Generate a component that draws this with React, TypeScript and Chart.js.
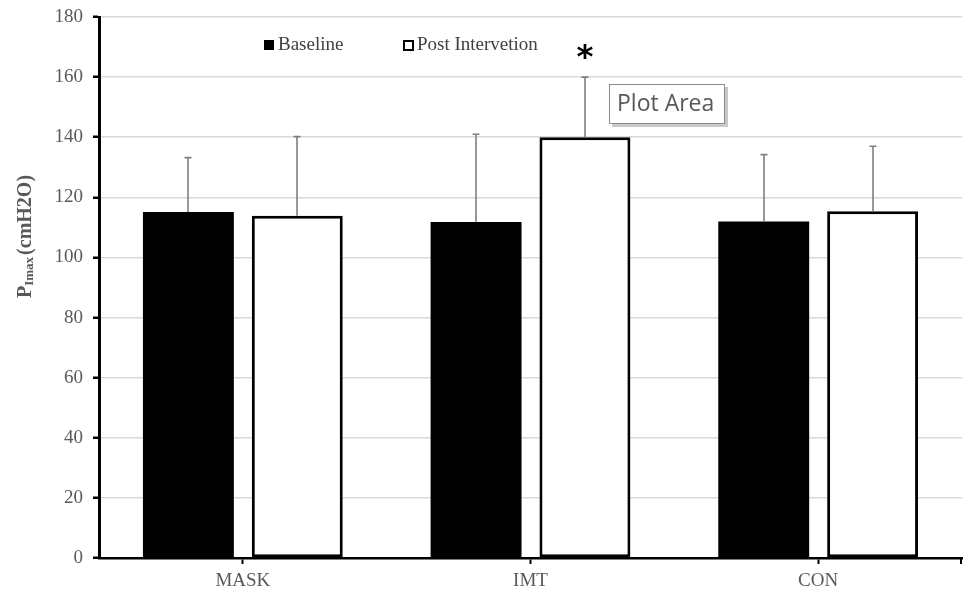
import React, { useEffect, useRef } from "react";
import { Chart, registerables } from "chart.js";

Chart.register(...registerables);

const categories = ["MASK", "IMT", "CON"];
const seriesLabels = ["Baseline", "Post Intervetion"];
const baselineValues = [115.1, 111.8, 112.0];
const postValues = [113.9, 140.0, 115.4];
const baselineErrors = [18.1, 29.2, 22.2];
const postErrors = [26.3, 20.0, 21.6];
const postSignificance = ["", "*", ""];
const yMin = 0;
const yMax = 180;
const yStep = 20;
const titleMain = "P";
const titleSub = "Imax";
const titleRest = "(cmH2O)";
const calloutText = "Plot Area";

const SERIF = "'Liberation Serif', 'Times New Roman', serif";
const GRAY_TEXT = "#595959";

const overlayPlugin = {
  id: "overlay",
  afterDatasetsDraw(chart: any) {
    const ctx = chart.ctx as CanvasRenderingContext2D;
    const yScale = chart.scales.y;
    const area = chart.chartArea;
    const vals = [baselineValues, postValues];
    const errs = [baselineErrors, postErrors];

    // error bars
    ctx.save();
    ctx.strokeStyle = "#7f7f7f";
    ctx.lineWidth = 1.6;
    chart.data.datasets.forEach((_ds: any, di: number) => {
      const meta = chart.getDatasetMeta(di);
      meta.data.forEach((el: any, i: number) => {
        const top = yScale.getPixelForValue(vals[di][i] + errs[di][i]);
        const x = Math.round(el.x);
        ctx.beginPath();
        ctx.moveTo(x, el.y);
        ctx.lineTo(x, top);
        ctx.moveTo(x - 3.5, top);
        ctx.lineTo(x + 3.5, top);
        ctx.stroke();
      });
    });
    ctx.restore();

    // significance marks
    ctx.save();
    const postMeta = chart.getDatasetMeta(1);
    postMeta.data.forEach((el: any, i: number) => {
      const mark = postSignificance[i];
      if (!mark) return;
      const top = yScale.getPixelForValue(postValues[i] + postErrors[i]);
      ctx.font = "bold 40px 'DejaVu Sans', sans-serif";
      const m = ctx.measureText(mark);
      const w = m.actualBoundingBoxLeft + m.actualBoundingBoxRight;
      const size = 40 * (17 / w);
      ctx.font = `bold ${size}px 'DejaVu Sans', sans-serif`;
      const m2 = ctx.measureText(mark);
      const cx = el.x;
      const cy = top - 26;
      const bx = cx - (m2.actualBoundingBoxRight - m2.actualBoundingBoxLeft) / 2;
      const by = cy + (m2.actualBoundingBoxAscent - m2.actualBoundingBoxDescent) / 2;
      ctx.fillStyle = "#000000";
      ctx.textAlign = "left";
      ctx.textBaseline = "alphabetic";
      ctx.fillText(mark, bx, by);
    });
    ctx.restore();

    // right end tick of x axis
    ctx.save();
    ctx.strokeStyle = "#000000";
    ctx.lineWidth = 2;
    ctx.beginPath();
    ctx.moveTo(area.right - 1, area.bottom);
    ctx.lineTo(area.right - 1, area.bottom + 6);
    ctx.stroke();
    ctx.restore();
  },
  afterDraw(chart: any) {
    const ctx = chart.ctx as CanvasRenderingContext2D;

    // legend
    ctx.save();
    ctx.font = `19px ${SERIF}`;
    ctx.textBaseline = "middle";
    ctx.textAlign = "left";
    ctx.fillStyle = "#000000";
    ctx.fillRect(264, 40, 10, 10);
    ctx.fillStyle = "#404040";
    ctx.fillText(seriesLabels[0], 278, 45);
    ctx.fillStyle = "#ffffff";
    ctx.fillRect(403, 40, 11, 11);
    ctx.strokeStyle = "#000000";
    ctx.lineWidth = 2;
    ctx.strokeRect(404, 41, 9, 9);
    ctx.fillStyle = "#404040";
    ctx.fillText(seriesLabels[1], 417, 45);
    ctx.restore();

    // callout box
    ctx.save();
    ctx.fillStyle = "#c8c8c8";
    ctx.fillRect(612, 87, 116, 40);
    ctx.fillStyle = "#ffffff";
    ctx.fillRect(609, 84, 116, 40);
    ctx.strokeStyle = "#8c8c8c";
    ctx.lineWidth = 1;
    ctx.strokeRect(609.5, 84.5, 115, 39);
    ctx.fillStyle = GRAY_TEXT;
    ctx.font = "23px 'Open Sans', 'Noto Sans', sans-serif";
    ctx.textBaseline = "middle";
    ctx.textAlign = "left";
    ctx.fillText(calloutText, 617, 104);
    ctx.restore();

    // y axis title
    ctx.save();
    ctx.translate(31, 298);
    ctx.rotate(-Math.PI / 2);
    ctx.fillStyle = GRAY_TEXT;
    ctx.textAlign = "left";
    ctx.textBaseline = "alphabetic";
    ctx.font = `bold 20px ${SERIF}`;
    ctx.fillText(titleMain, 0, 0);
    let x = ctx.measureText(titleMain).width;
    ctx.font = `bold 13px ${SERIF}`;
    ctx.fillText(titleSub, x, 2);
    x += ctx.measureText(titleSub).width + 2;
    ctx.font = `bold 20px ${SERIF}`;
    ctx.fillText(titleRest, x, 0);
    ctx.restore();
  },
};

export default function App() {
  const ref = useRef<HTMLCanvasElement | null>(null);

  useEffect(() => {
    document.body.style.margin = "0";
    const canvas = ref.current;
    if (!canvas) return;
    const chart = new Chart(canvas, {
      type: "bar",
      data: {
        labels: categories,
        datasets: [
          {
            label: seriesLabels[0],
            data: baselineValues,
            backgroundColor: "#000000",
            borderColor: "#000000",
            borderWidth: 0,
          },
          {
            label: seriesLabels[1],
            data: postValues,
            backgroundColor: "#ffffff",
            borderColor: "#000000",
            borderWidth: 3,
            borderSkipped: false,
          },
        ],
      },
      options: {
        responsive: false,
        animation: false,
        devicePixelRatio: 1,
        layout: { padding: { top: 17, right: 3, left: 0, bottom: 0 } },
        datasets: {
          bar: { categoryPercentage: 0.757, barPercentage: 0.835 },
        },
        plugins: {
          legend: { display: false },
          tooltip: { enabled: false },
          title: { display: false },
        },
        scales: {
          x: {
            offset: true,
            grid: {
              display: true,
              offset: false,
              drawOnChartArea: false,
              drawTicks: true,
              tickLength: 6,
              tickColor: "#000000",
              tickWidth: 2,
            },
            border: { display: true, color: "#000000", width: 2.5 },
            ticks: {
              color: GRAY_TEXT,
              font: { family: SERIF, size: 19 },
              padding: 6,
            },
            afterFit(scale: any) {
              scale.height = 34;
              scale.paddingLeft = 0;
              scale.paddingRight = 0;
            },
          },
          y: {
            min: yMin,
            max: yMax,
            ticks: {
              stepSize: yStep,
              color: GRAY_TEXT,
              font: { family: SERIF, size: 19 },
              padding: 10,
            },
            grid: {
              color: "#d9d9d9",
              lineWidth: 1.5,
              drawTicks: true,
              tickLength: 6,
              tickColor: "#000000",
              tickWidth: 2.5,
            },
            border: { display: true, color: "#000000", width: 3 },
            afterFit(scale: any) {
              scale.width = 99;
              scale.paddingTop = 0;
              scale.paddingBottom = 0;
            },
          },
        },
      },
      plugins: [overlayPlugin],
    });
    return () => chart.destroy();
  }, []);

  return (
    <div style={{ position: "fixed", left: 0, top: 0, width: 965, height: 592, background: "#ffffff" }}>
      <canvas ref={ref} width={965} height={592} style={{ width: 965, height: 592, display: "block" }} />
    </div>
  );
}
